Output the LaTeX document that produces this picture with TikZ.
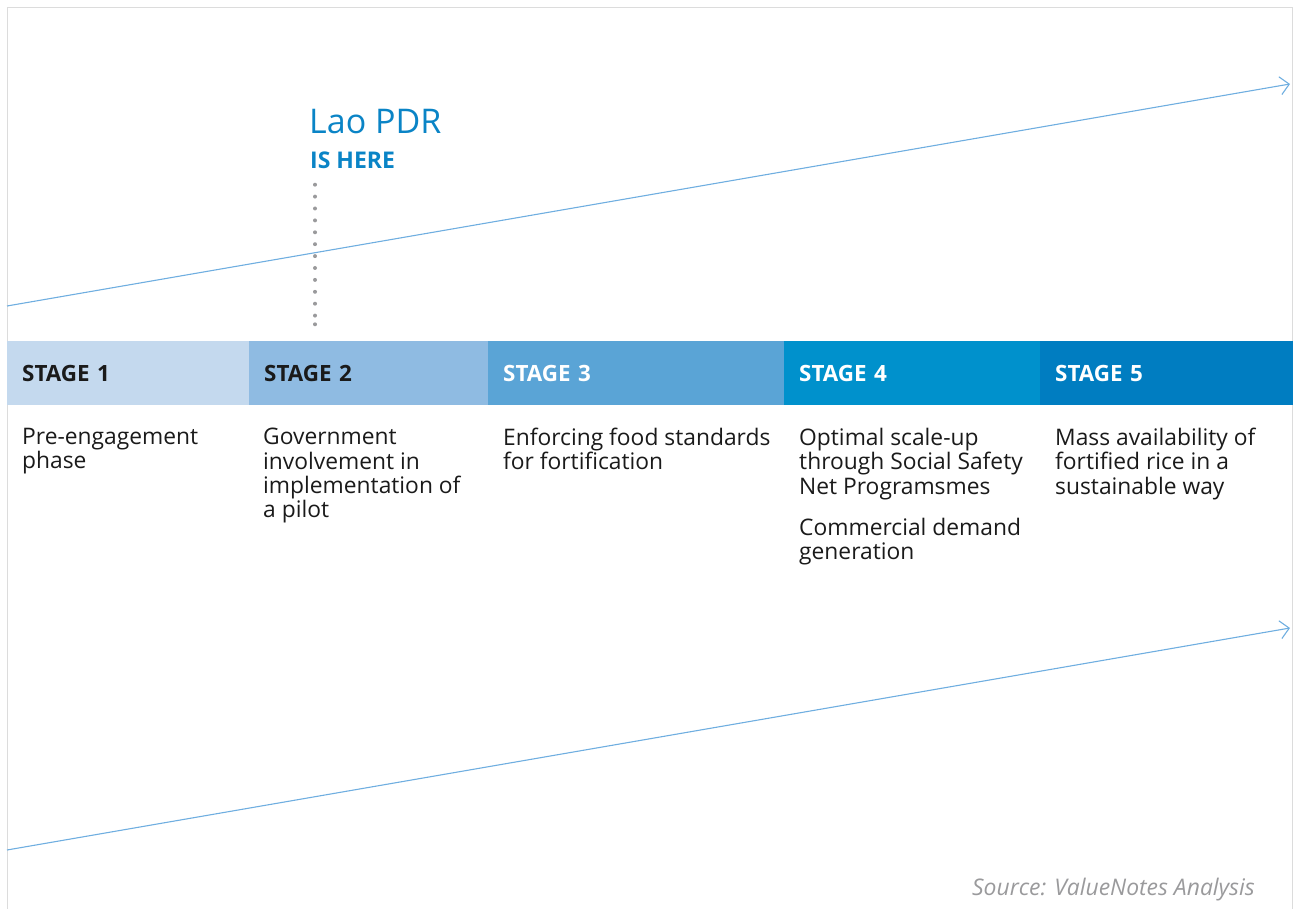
\documentclass[tikz,border=0pt]{standalone}
\usepackage{fontspec}
\setmainfont{Open Sans}
\usepackage{tikz}
\usetikzlibrary{arrows.meta}

\definecolor{stA}{HTML}{C4D9EE}
\definecolor{stB}{HTML}{8FBBE2}
\definecolor{stC}{HTML}{5AA4D6}
\definecolor{stD}{HTML}{0091CC}
\definecolor{stE}{HTML}{007DC1}
\definecolor{trend}{HTML}{6FAEE0}
\definecolor{laoblue}{HTML}{0A84C6}
\definecolor{dotgray}{HTML}{9A9A9C}
\definecolor{framegray}{HTML}{DCDCDC}
\definecolor{txt}{HTML}{1A1A1A}

\tikzset{
  stagebox/.style={anchor=north west, minimum height=64, inner xsep=15, inner ysep=0,
    align=left, font=\fontsize{22.4}{26}\selectfont\bfseries},
  desc/.style={anchor=north west, align=left, inner sep=0, text=txt,
    font=\fontsize{22.8}{24.3}\selectfont},
  trendline/.style={draw=trend, line width=1.1, -{Straight Barb[length=9,width=18,line width=1.1]}}
}

\begin{document}
\begin{tikzpicture}[x=1pt,y=-1pt]
\useasboundingbox (0,0) rectangle (1293,909);
% frame
\draw[framegray, line width=1.5] (7.5,912) -- (7.5,7.5) -- (1292.5,7.5) -- (1292.5,912);

% trend arrows
\coordinate (upS) at (7,306);
\coordinate (upE) at (1290,84);
\coordinate (loS) at (7,850);
\coordinate (loE) at (1290,628);
\draw[trendline] (upS) -- (upE);
\draw[trendline] (loS) -- (loE);

% marker
\node[anchor=base west, inner sep=0, text=laoblue, font=\fontsize{34}{40}\selectfont] (lao) at (309,134) {Lao PDR};
\node[anchor=base west, inner sep=0, text=laoblue, font=\fontsize{23}{26}\selectfont\bfseries] (here) at (310,169) {IS HERE};
\coordinate (dotS) at (315,184.7);
\coordinate (dotE) at (315,324.3);
\draw[dotgray, line width=4, line cap=round, dash pattern=on 0 off 11.9] (dotS) -- (dotE);
\fill[dotgray] (dotE) circle (2);

% stage bar
\foreach \x/\w/\c/\t/\n in {7/242/stA/txt/1, 249/239/stB/txt/2, 488/296/stC/white/3,
    784/256/stD/white/4, 1040/253/stE/white/5}{
  \node[stagebox, fill=\c, text=\t, minimum width=\w, text width=\w-30] (s\n) at (\x,341) {STAGE \n};
}

% descriptions
\node[desc] (d1) at (22,428) {Pre-engagement\\phase};
\node[desc] (d2) at (263,428) {Government\\involvement in\\implementation of\\a pilot};
\node[desc] (d3) at (503,428) {Enforcing food standards\\for fortification};
\node[desc] (d4) at (799,428) {Optimal scale-up\\through Social Safety\\Net Programsmes\\[17pt]Commercial demand\\generation};
\node[desc] (d5) at (1055,428) {Mass availability of\\fortified rice in a\\sustainable way};

\node[anchor=base east, inner sep=0, text=dotgray, font=\fontsize{22.9}{26}\selectfont\itshape] (src) at (1255,895) {Source: ValueNotes Analysis};
\end{tikzpicture}
\end{document}
